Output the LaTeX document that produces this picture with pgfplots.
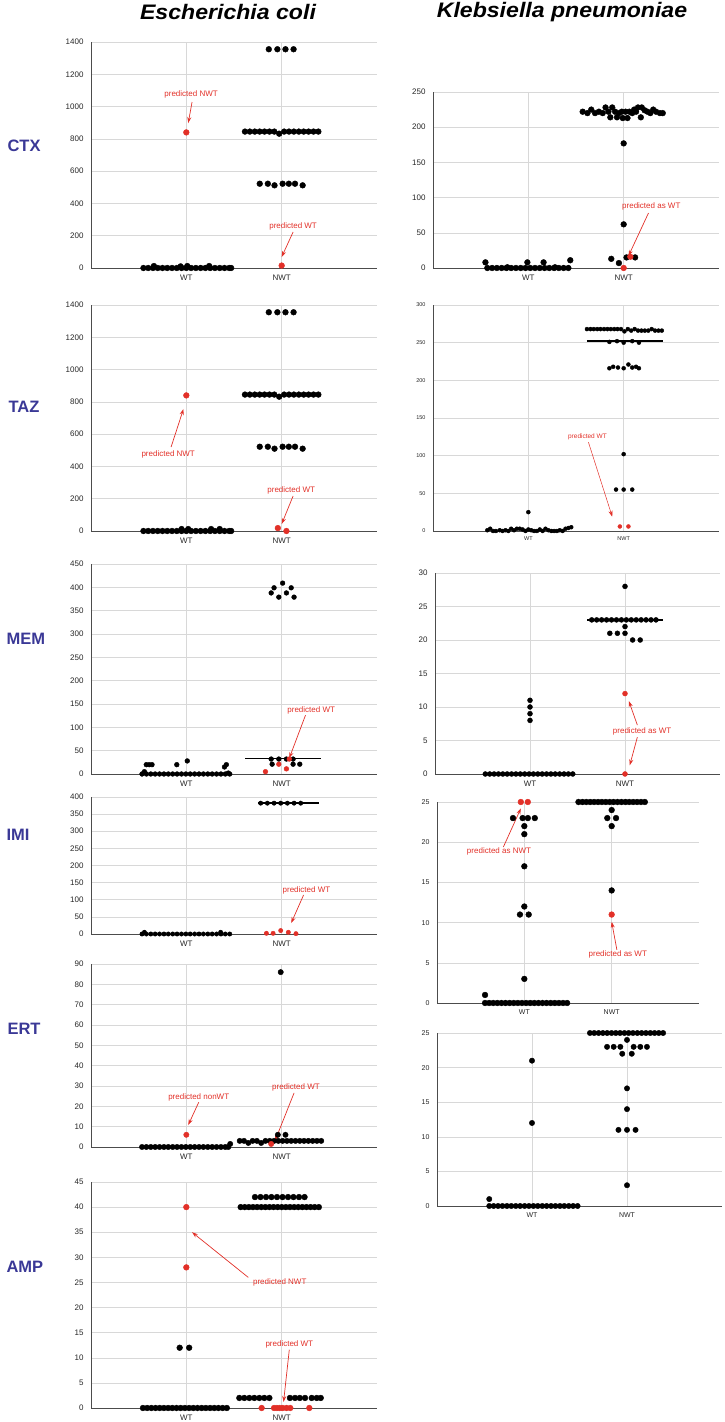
\documentclass[border=0pt]{standalone}
\usepackage{pgfplots}
\pgfplotsset{compat=1.18}
\usetikzlibrary{arrows.meta}
\usepackage{fontspec}
\setmainfont{Liberation Sans}
\definecolor{cred}{RGB}{226,48,40}
\definecolor{cblue}{RGB}{58,56,150}
\definecolor{cgrid}{RGB}{216,216,216}

\pgfplotsset{
  panel/.style={
    scale only axis, xmin=0, xmax=3, ymin=0,
    xtick={1,2}, xticklabels={WT,NWT},
    xmajorgrids, ymajorgrids,
    major grid style={draw=cgrid, line width=0.5pt},
    axis x line*=bottom, axis y line*=left,
    axis line style={draw=black!70, line width=0.7pt, -},
    x axis line style={-}, y axis line style={-},
    major tick length=0pt,
    tick label style={font=\fontsize{8}{9}\selectfont, text=black!85},
    yticklabel style={xshift=-4pt},
    xticklabel style={yshift=-3.5pt},
    /pgf/number format/assume math mode=true,
    /pgf/number format/1000 sep={},
    scaled y ticks=false,
    clip=false,
  },
  blk/.style={only marks, mark=*, mark options={draw=black, fill=black}, mark size=2.9pt},
  rd/.style={only marks, mark=*, mark options={draw=cred, fill=cred}, mark size=2.9pt},
  med/.style={black, line width=1.6pt, no marks},
}
\tikzset{
  ann/.style={text=cred, font=\fontsize{8}{9}\selectfont},
  arr/.style={cred, line width=0.7pt, -{Stealth[length=6pt,width=4pt]}},
  rowlab/.style={anchor=west, text=cblue, font=\fontsize{16.5}{18}\bfseries\selectfont},
}

\begin{document}
\begin{tikzpicture}
\useasboundingbox (0,0) rectangle (725pt,1422pt);

% titles
\node[font=\fontsize{21}{24}\bfseries\itshape\selectfont, xscale=1.1] at (228pt,1410pt) {Escherichia coli};
\node[font=\fontsize{21}{24}\bfseries\itshape\selectfont, xscale=1.1] at (562pt,1410pt) {Klebsiella pneumoniae};

% row labels
\node[rowlab] at (4pt,1276pt) {CTX};
\node[rowlab] at (5pt,1015pt) {TAZ};
\node[rowlab] at (3pt,783pt) {MEM};
\node[rowlab] at (3pt,587pt) {IMI};
\node[rowlab] at (4pt,393pt) {ERT};
\node[rowlab] at (3pt,155pt) {AMP};

% ---------------- E. coli CTX
\begin{axis}[panel, at={(91pt,1154pt)}, anchor=south west, width=286pt, height=226pt, ymax=1400, ytick={0,200,...,1400}]
\addplot[blk] coordinates {(0.55,0)(0.60,0)(0.65,0)(0.70,0)(0.75,0)(0.80,0)(0.85,0)(0.90,0)(0.95,0)(1.00,0)(1.05,0)(1.10,0)(1.15,0)(1.20,0)(1.25,0)(1.30,0)(1.35,0)(1.40,0)(1.45,0)(1.47,0)
(0.66,12)(0.94,10)(1.01,12)(1.24,12)};
\addplot[blk] coordinates {(1.865,1355)(1.955,1355)(2.04,1355)(2.125,1355)
(1.615,845)(1.666,845)(1.718,845)(1.769,845)(1.82,845)(1.872,845)(1.923,845)(1.974,832)(2.026,845)(2.077,845)(2.128,845)(2.18,845)(2.231,845)(2.282,845)(2.334,845)(2.385,845)
(1.77,522)(1.855,522)(1.925,512)(2.01,522)(2.075,522)(2.14,522)(2.22,512)};
\addplot[rd] coordinates {(1,840)(2,15)};
\node[ann] at (axis cs:1.05,1078) {predicted NWT};
\draw[arr] (axis cs:1.06,1028) -- (axis cs:1.02,898);
\node[ann] at (axis cs:2.12,260) {predicted WT};
\draw[arr] (axis cs:2.12,223) -- (axis cs:2.0,68);
\end{axis}

% ---------------- E. coli TAZ
\begin{axis}[panel, at={(91pt,891pt)}, anchor=south west, width=286pt, height=226pt, ymax=1400, ytick={0,200,...,1400}]
\addplot[blk] coordinates {(0.55,0)(0.60,0)(0.65,0)(0.70,0)(0.75,0)(0.80,0)(0.85,0)(0.90,0)(0.95,0)(1.00,0)(1.05,0)(1.10,0)(1.15,0)(1.20,0)(1.25,0)(1.30,0)(1.35,0)(1.40,0)(1.45,0)(1.47,0)
(0.95,12)(1.02,12)(1.26,12)(1.35,12)};
\addplot[blk] coordinates {(1.865,1355)(1.955,1355)(2.04,1355)(2.125,1355)
(1.615,845)(1.666,845)(1.718,845)(1.769,845)(1.82,845)(1.872,845)(1.923,845)(1.974,832)(2.026,845)(2.077,845)(2.128,845)(2.18,845)(2.231,845)(2.282,845)(2.334,845)(2.385,845)
(1.77,522)(1.855,522)(1.925,510)(2.01,522)(2.075,522)(2.14,522)(2.22,510)};
\addplot[rd] coordinates {(1,840)(1.96,18)(2.05,0)};
\node[ann] at (axis cs:0.81,477) {predicted NWT};
\draw[arr] (axis cs:0.84,520) -- (axis cs:0.97,756);
\node[ann] at (axis cs:2.10,254) {predicted WT};
\draw[arr] (axis cs:2.12,217) -- (axis cs:2.0,43);
\end{axis}

% ---------------- E. coli MEM
\begin{axis}[panel, at={(91pt,648pt)}, anchor=south west, width=286pt, height=210pt, ymax=450, ytick={0,50,...,450}]
\addplot[blk, mark size=2.4pt] coordinates {(0.535,0)(0.581,0)(0.627,0)(0.673,0)(0.719,0)(0.765,0)(0.811,0)(0.857,0)(0.903,0)(0.949,0)(0.995,0)(1.041,0)(1.087,0)(1.133,0)(1.179,0)(1.225,0)(1.271,0)(1.317,0)(1.363,0)(1.409,0)(1.455,0)
(0.56,5)(0.58,20)(0.61,20)(0.64,20)(0.90,20)(1.01,28)(1.40,15)(1.42,20)(1.44,2)};
\addplot[med] coordinates {(1.62,33)(2.41,33)};
\addplot[blk, mark size=2.4pt] coordinates {(1.89,388)(1.92,399)(1.97,379)(2.01,409)(2.05,388)(2.10,399)(2.13,379)
(1.89,32)(1.97,32)(2.05,32)(2.12,32)(1.90,21)(2.12,21)(2.19,21)};
\addplot[rd, mark size=2.4pt] coordinates {(1.83,5)(1.97,21)(2.05,11)(2.08,32)};
\node[ann] at (axis cs:2.31,137) {predicted WT};
\draw[arr] (axis cs:2.25,126) -- (axis cs:2.08,34);
\end{axis}

% ---------------- E. coli IMI
\begin{axis}[panel, at={(91pt,488pt)}, anchor=south west, width=286pt, height=137pt, ymax=400, ytick={0,50,...,400}]
\addplot[blk, mark size=2.2pt] coordinates {(0.535,0)(0.581,0)(0.627,0)(0.673,0)(0.719,0)(0.765,0)(0.811,0)(0.857,0)(0.903,0)(0.949,0)(0.995,0)(1.041,0)(1.087,0)(1.133,0)(1.179,0)(1.225,0)(1.271,0)(1.317,0)(1.363,0)(1.409,0)(1.455,0)
(0.56,5)(1.36,5)};
\addplot[med] coordinates {(1.75,382)(2.39,382)};
\addplot[blk, mark size=2.2pt] coordinates {(1.78,382)(1.85,382)(1.92,382)(1.99,382)(2.06,382)(2.13,382)(2.20,382)};
\addplot[rd, mark size=2.2pt] coordinates {(1.84,2)(1.91,2)(1.99,10)(2.07,5)(2.15,1)};
\node[ann] at (axis cs:2.26,128) {predicted WT};
\draw[arr] (axis cs:2.23,114) -- (axis cs:2.10,32);
\end{axis}

% ---------------- E. coli ERT
\begin{axis}[panel, at={(91pt,275pt)}, anchor=south west, width=286pt, height=183pt, ymax=90, ytick={0,10,...,90}]
\addplot[blk, mark size=2.7pt] coordinates {(0.535,0)(0.581,0)(0.627,0)(0.673,0)(0.719,0)(0.765,0)(0.811,0)(0.857,0)(0.903,0)(0.949,0)(0.995,0)(1.041,0)(1.087,0)(1.133,0)(1.179,0)(1.225,0)(1.271,0)(1.317,0)(1.363,0)(1.409,0)(1.44,0)
(1.46,1.5)};
\addplot[blk, mark size=2.7pt] coordinates {(1.56,3)(1.605,3)(1.65,2)(1.695,3)(1.74,3)(1.785,2)(1.83,3)(1.875,3)(1.92,3)(1.965,3)(2.01,3)(2.055,3)(2.10,3)(2.145,3)(2.19,3)(2.235,3)(2.28,3)(2.325,3)(2.37,3)(2.415,3)
(1.96,6)(2.04,6)(1.99,86)};
\addplot[rd, mark size=2.7pt] coordinates {(1,6)(1.89,1.5)};
\node[ann] at (axis cs:1.13,24.6) {predicted nonWT};
\draw[arr] (axis cs:1.13,22) -- (axis cs:1.02,10.8);
\node[ann] at (axis cs:2.15,29.5) {predicted WT};
\draw[arr] (axis cs:2.13,26.6) -- (axis cs:1.93,3);
\end{axis}

% ---------------- E. coli AMP
\begin{axis}[panel, at={(91pt,14pt)}, anchor=south west, width=286pt, height=226pt, ymax=45, ytick={0,5,...,45}]
\addplot[blk] coordinates {(0.545,0)(0.589,0)(0.633,0)(0.677,0)(0.721,0)(0.765,0)(0.809,0)(0.853,0)(0.897,0)(0.941,0)(0.985,0)(1.029,0)(1.073,0)(1.117,0)(1.161,0)(1.205,0)(1.249,0)(1.293,0)(1.337,0)(1.381,0)(1.425,0)
(0.93,12)(1.03,12)};
\addplot[blk] coordinates {(1.72,42)(1.778,42)(1.836,42)(1.893,42)(1.951,42)(2.009,42)(2.067,42)(2.124,42)(2.182,42)(2.24,42)
(1.57,40)(1.613,40)(1.656,40)(1.699,40)(1.742,40)(1.786,40)(1.829,40)(1.872,40)(1.915,40)(1.958,40)(2.001,40)(2.044,40)(2.087,40)(2.131,40)(2.174,40)(2.217,40)(2.26,40)(2.303,40)(2.346,40)(2.39,40)
(1.556,2)(1.608,2)(1.661,2)(1.713,2)(1.766,2)(1.818,2)(1.871,2)(2.087,2)(2.14,2)(2.19,2)(2.245,2)(2.315,2)(2.368,2)(2.41,2)};
\addplot[rd] coordinates {(1,40)(1,28)(1.79,0)(1.92,0)(1.95,0)(1.98,0)(2.01,0)(2.05,0)(2.09,0)(2.29,0)};
\node[ann] at (axis cs:1.98,25) {predicted NWT};
\draw[arr] (axis cs:1.65,26) -- (axis cs:1.06,35);
\node[ann] at (axis cs:2.08,12.6) {predicted WT};
\draw[arr] (axis cs:2.08,11.6) -- (axis cs:2.02,1.2);
\end{axis}

% ---------------- K. pneumoniae CTX
\begin{axis}[panel, at={(433pt,1154pt)}, anchor=south west, width=286pt, height=176pt, ymax=250, ytick={0,50,...,250}]
\addplot[blk] coordinates {(0.57,0)(0.62,0)(0.67,0)(0.72,0)(0.77,0)(0.82,0)(0.87,0)(0.92,0)(0.97,0)(1.02,0)(1.07,0)(1.12,0)(1.17,0)(1.22,0)(1.27,0)(1.32,0)(1.37,0)(1.42,0)
(0.55,8)(0.99,8)(1.16,8)(1.44,11)(0.78,1)(1.28,1)};
\addplot[blk] coordinates {(1.57,222)(1.62,220)(1.66,225)(1.70,220)(1.74,222)(1.78,220)(1.81,228)(1.84,222)(1.86,214)(1.88,228)(1.91,222)(1.93,214)(1.95,220)(1.98,222)(1.99,213)(2.02,222)(2.04,213)(2.06,222)(2.09,220)(2.11,225)(2.13,222)(2.15,228)(2.18,214)(2.19,228)(2.22,224)(2.25,222)(2.28,220)(2.31,225)(2.34,222)(2.38,220)(2.41,220)
(2.0,177)(2.0,62)(1.87,13)(1.95,7)(2.03,15)(2.12,15)};
\addplot[rd] coordinates {(2.0,0)(2.07,16)};
\node[ann] at (axis cs:2.29,87) {predicted as WT};
\draw[arr] (axis cs:2.26,78) -- (axis cs:2.05,17);
\end{axis}

% ---------------- K. pneumoniae TAZ
\begin{axis}[panel, at={(433pt,891pt)}, anchor=south west, width=286pt, height=226pt, ymax=300, ytick={0,50,...,300},
  tick label style={font=\fontsize{5.5}{6}\selectfont}, xticklabel style={yshift=1pt}]
\addplot[blk, mark size=2pt] coordinates {(0.57,1)(0.60,3)(0.63,0)(0.66,0)(0.70,1)(0.73,0)(0.76,1)(0.79,0)(0.82,3)(0.85,1)(0.88,3)(0.91,3)(0.94,2)(0.97,0)(1.00,2)(1.03,1)(1.06,0)(1.09,0)(1.12,2)(1.15,0)(1.18,3)(1.21,1)(1.24,0)(1.27,0)(1.30,0)(1.33,1)(1.36,0)(1.39,3)(1.42,4)(1.45,5)(1.00,25)};
\addplot[black, line width=2pt, no marks] coordinates {(1.615,252)(2.41,252)};
\addplot[blk, mark size=2pt] coordinates {(1.615,268)(1.651,268)(1.687,268)(1.722,268)(1.758,268)(1.794,268)(1.829,268)(1.865,268)(1.901,268)(1.936,268)(1.972,268)(2.008,265)(2.044,268)(2.079,266)(2.115,268)(2.151,266)(2.186,266)(2.222,266)(2.258,266)(2.294,268)(2.329,266)(2.365,266)(2.40,266)
(1.85,251)(1.93,252)(2.0,250)(2.09,252)(2.16,250)
(1.85,216)(1.89,218)(1.94,217)(2.0,216)(2.05,221)(2.09,217)(2.13,218)(2.16,216)
(2.0,102)(1.92,55)(2.0,55)(2.09,55)};
\addplot[rd, mark size=2pt] coordinates {(1.96,6)(2.05,6)};
\node[ann, font=\fontsize{6.5}{7}\selectfont] at (axis cs:1.62,125) {predicted WT};
\draw[arr, line width=0.5pt] (axis cs:1.63,118) -- (axis cs:1.88,19);
\end{axis}

% ---------------- K. pneumoniae MEM
\begin{axis}[panel, at={(435pt,648pt)}, anchor=south west, width=285pt, height=201pt, ymax=30, ytick={0,5,...,30}]
\addplot[blk, mark size=2.5pt] coordinates {(0.53,0)(0.576,0)(0.622,0)(0.668,0)(0.714,0)(0.76,0)(0.806,0)(0.852,0)(0.898,0)(0.944,0)(0.99,0)(1.036,0)(1.082,0)(1.128,0)(1.174,0)(1.22,0)(1.266,0)(1.312,0)(1.358,0)(1.404,0)(1.45,0)
(1,11)(1,10)(1,9)(1,8)};
\addplot[med] coordinates {(1.60,23)(2.40,23)};
\addplot[blk, mark size=2.5pt] coordinates {(1.65,23)(1.702,23)(1.754,23)(1.806,23)(1.858,23)(1.91,23)(1.962,23)(2.014,23)(2.066,23)(2.118,23)(2.17,23)(2.222,23)(2.274,23)(2.326,23)
(2.0,28)(2.0,22)(1.84,21)(1.92,21)(2.0,21)(2.08,20)(2.16,20)};
\addplot[rd, mark size=2.5pt] coordinates {(2.0,12)(2.0,0)};
\node[ann] at (axis cs:2.18,6.4) {predicted as WT};
\draw[arr] (axis cs:2.13,7.3) -- (axis cs:2.04,10.9);
\draw[arr] (axis cs:2.13,5.5) -- (axis cs:2.05,1.3);
\end{axis}

% ---------------- K. pneumoniae IMI
\begin{axis}[panel, at={(437pt,419pt)}, anchor=south west, width=262pt, height=201pt, ymax=25, ytick={0,5,...,25},
  tick label style={font=\fontsize{7}{8}\selectfont}]
\addplot[blk] coordinates {(0.55,0)(0.597,0)(0.644,0)(0.691,0)(0.738,0)(0.785,0)(0.832,0)(0.879,0)(0.926,0)(0.973,0)(1.02,0)(1.067,0)(1.114,0)(1.161,0)(1.208,0)(1.255,0)(1.302,0)(1.349,0)(1.396,0)(1.443,0)(1.49,0)
(0.55,1)(1,3)(1,12)(0.95,11)(1.05,11)(1,17)(1,21)(1,22)(0.87,23)(0.98,23)(1.04,23)(1.12,23)};
\addplot[blk] coordinates {(1.62,25)(1.665,25)(1.709,25)(1.754,25)(1.799,25)(1.844,25)(1.888,25)(1.933,25)(1.978,25)(2.022,25)(2.067,25)(2.112,25)(2.157,25)(2.201,25)(2.246,25)(2.291,25)(2.336,25)(2.38,25)
(2,24)(1.95,23)(2.05,23)(2,22)(2,14)};
\addplot[rd] coordinates {(0.96,25)(1.04,25)(2,11)};
\node[ann] at (axis cs:0.71,18.8) {predicted as NWT};
\draw[arr] (axis cs:0.76,19.4) -- (axis cs:0.96,24.2);
\node[ann] at (axis cs:2.07,6.0) {predicted as WT};
\draw[arr] (axis cs:2.06,6.6) -- (axis cs:2.0,10.1);
\end{axis}

% ---------------- K. pneumoniae ERT
\begin{axis}[panel, at={(437pt,216pt)}, anchor=south west, width=285pt, height=173pt, ymax=25, ytick={0,5,...,25},
  tick label style={font=\fontsize{7}{8}\selectfont}]
\addplot[blk, mark size=2.7pt] coordinates {(0.55,0)(0.596,0)(0.643,0)(0.689,0)(0.736,0)(0.782,0)(0.829,0)(0.875,0)(0.922,0)(0.968,0)(1.015,0)(1.061,0)(1.108,0)(1.154,0)(1.201,0)(1.247,0)(1.294,0)(1.34,0)(1.387,0)(1.433,0)(1.48,0)
(0.55,1)(1,21)(1,12)};
\addplot[blk, mark size=2.7pt] coordinates {(1.61,25)(1.655,25)(1.701,25)(1.746,25)(1.791,25)(1.837,25)(1.882,25)(1.927,25)(1.973,25)(2.018,25)(2.063,25)(2.109,25)(2.154,25)(2.199,25)(2.245,25)(2.29,25)(2.335,25)(2.38,25)
(2,24)(1.79,23)(1.86,23)(1.93,23)(2.07,23)(2.14,23)(2.21,23)(1.95,22)(2.05,22)(2,17)(2,14)(1.91,11)(2,11)(2.09,11)(2,3)};
\end{axis}

\end{tikzpicture}
\end{document}
